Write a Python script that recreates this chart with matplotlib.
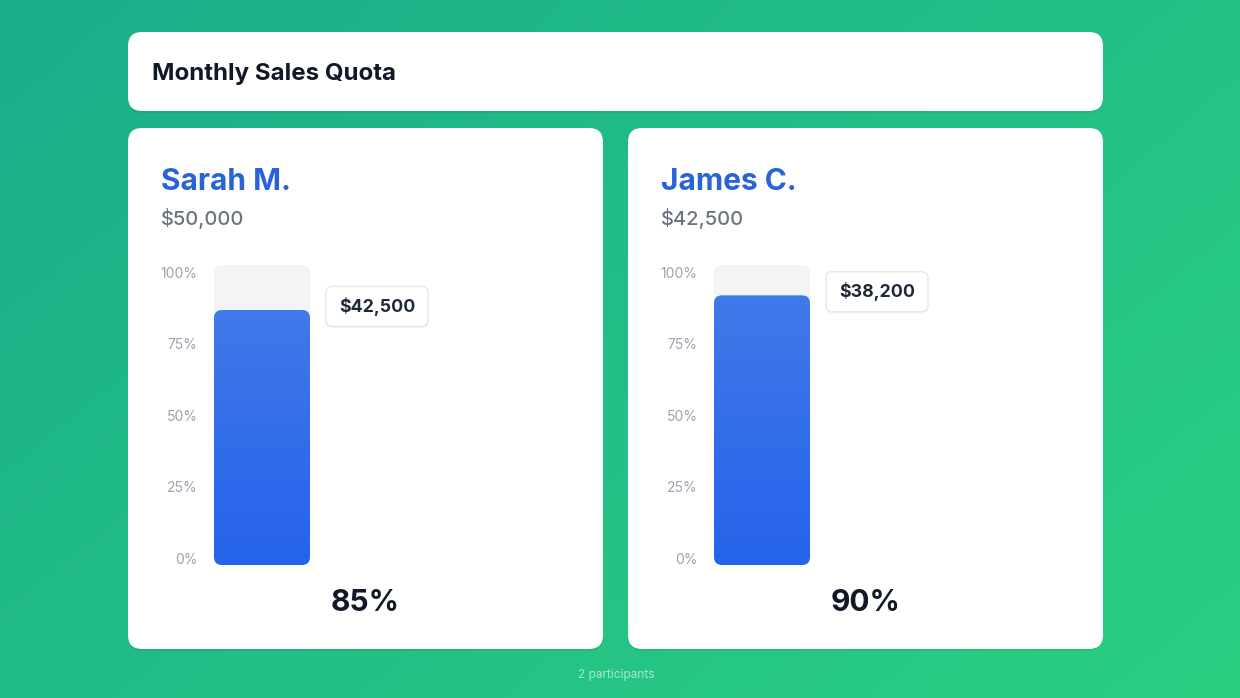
import numpy as np
import matplotlib.pyplot as plt
from matplotlib.patches import FancyBboxPatch
from matplotlib.colors import LinearSegmentedColormap

# data
title = "Monthly Sales Quota"
names = ["Sarah M.", "James C."]
quotas = [50000, 42500]
sales = [42500, 38200]
tick_values = [0, 25, 50, 75, 100]
footer = "2 participants"

W, H = 1240, 698
plt.rcParams['font.family'] = ['Inter', 'DejaVu Sans']

fig = plt.figure(figsize=(W / 100, H / 100), dpi=100)
bg = fig.add_axes([0, 0, 1, 1])
bg.set_xlim(0, W)
bg.set_ylim(H, 0)
bg.axis('off')

# diagonal green gradient
gx, gy = np.meshgrid(np.linspace(0, 1, 200), np.linspace(0, 1, 120))
grad = (gx * 0.6 + gy * 0.4)
bg_cmap = LinearSegmentedColormap.from_list('bg', ['#1aae8b', '#2bcf81'])
bg.imshow(grad, extent=[0, W, H, 0], cmap=bg_cmap, aspect='auto', zorder=0)


def card(x, y, w, h, r=14):
    sh = FancyBboxPatch((x, y + 2), w, h, boxstyle=f"round,pad=0,rounding_size={r}",
                        fc='black', ec='none', alpha=0.06, zorder=1)
    bg.add_patch(sh)
    bg.add_patch(FancyBboxPatch((x, y), w, h, boxstyle=f"round,pad=0,rounding_size={r}",
                                fc='white', ec='none', zorder=2))


card(128, 32, 975, 79)
bg.text(152, 80, title, fontsize=17.3, fontweight='bold', color='#111827', zorder=3)

bar_cmap = LinearSegmentedColormap.from_list('bar', ['#2563eb', '#4079e8'])
px_x, px_y = 96, 3  # pixels per data unit in the bar axes
asp = px_x / px_y

for i, name in enumerate(names):
    off = 500 * i
    pct = sales[i] / quotas[i] * 100
    card(128 + off, 128, 475, 521)
    bg.text(161 + off, 190, name, fontsize=21.5, fontweight='bold', color='#2a62d9', zorder=3)
    bg.text(161 + off, 225, f"${quotas[i]:,}", fontsize=14.5, fontweight='medium',
            color='#6b7280', zorder=3)
    bg.text(365.5 + off, 611, f"{pct:.0f}%", fontsize=21.5, fontweight='bold',
            color='#111827', ha='center', zorder=3)

    ax = fig.add_axes([(214 + off) / W, (H - 565) / H, 386 / W, 300 / H])
    ax.set_xlim(0, 386 / px_x)
    ax.set_ylim(0, 100)
    ax.patch.set_alpha(0)
    for s in ax.spines.values():
        s.set_visible(False)
    ax.set_xticks([])
    tick_pos = [v * 0.953 + 2.3 for v in tick_values]
    ax.set_yticks(tick_pos, [f"{v}%" for v in tick_values])
    ax.tick_params(axis='y', length=0, pad=12, labelsize=10, labelcolor='#9ca3af')

    rnd = 8 / px_x
    track = FancyBboxPatch((0, 0), 1, 100, boxstyle=f"round,pad=0,rounding_size={rnd}",
                           mutation_aspect=asp, fc='#f3f4f6', ec='none', zorder=1)
    ax.add_patch(track)
    r = ax.bar(0, pct, width=1, align='edge', color='none')[0]
    clip = FancyBboxPatch((r.get_x(), r.get_y()), r.get_width(), r.get_height(),
                          boxstyle=f"round,pad=0,rounding_size={rnd}",
                          mutation_aspect=asp, fc='none', ec='none', zorder=2)
    ax.add_patch(clip)
    im = ax.imshow(np.linspace(0, 1, 100).reshape(-1, 1), extent=[0, 1, 0, pct],
                   origin='lower', cmap=bar_cmap, aspect='auto', zorder=2)
    im.set_clip_path(clip)
    ax.set_xlim(0, 386 / px_x)
    ax.set_ylim(0, 100)

    # value label box
    bx, bw, bh = 112 / px_x, 102 / px_x, 40 / px_y
    by = pct + 1.2 - bh / 2
    ax.add_patch(FancyBboxPatch((bx, by - 0.5), bw, bh, boxstyle=f"round,pad=0,rounding_size={6 / px_x}",
                                mutation_aspect=asp, fc='black', ec='none', alpha=0.05,
                                zorder=3, clip_on=False))
    ax.add_patch(FancyBboxPatch((bx, by), bw, bh, boxstyle=f"round,pad=0,rounding_size={6 / px_x}",
                                mutation_aspect=asp, fc='white', ec='#e5e7eb', lw=1,
                                zorder=4, clip_on=False))
    ax.text(bx + bw / 2, pct + 1.2, f"${sales[i]:,}", ha='center', va='center',
            fontsize=12.8, fontweight='bold', color='#1f2937', zorder=5)

bg.text(616, 678, footer, fontsize=8.5, color='white', alpha=0.6, ha='center', zorder=3)

fig.savefig('out.png', dpi=100)
